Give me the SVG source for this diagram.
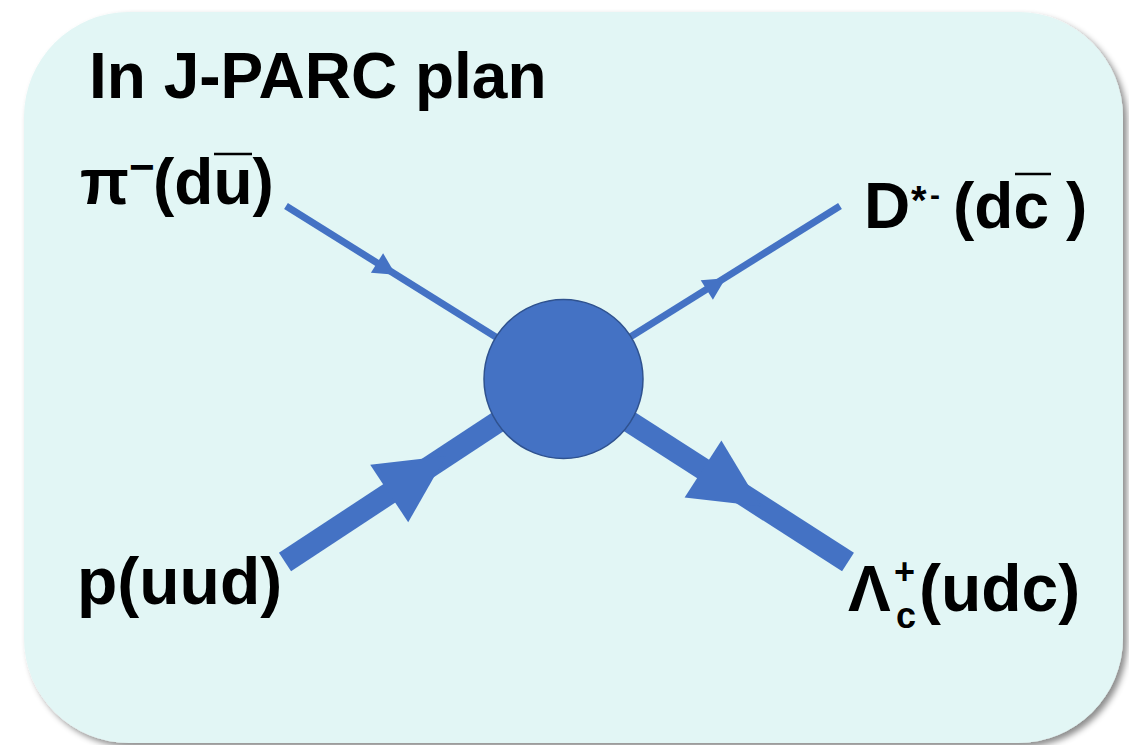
<svg xmlns="http://www.w3.org/2000/svg" width="1129" height="745" viewBox="0 0 1129 745">
  <defs>
    <filter id="panelShadow" x="-5%" y="-5%" width="112%" height="112%">
      <feDropShadow dx="4" dy="4" stdDeviation="3" flood-color="#000" flood-opacity="0.45"/>
    </filter>
    <style>
      .label { font-family: "Liberation Sans", Arial, sans-serif; font-weight: bold; fill: #000; }
      .prop { stroke: #4472C4; fill: none; stroke-linecap: butt; }
      .thin { stroke-width: 7; }
      .thick { stroke-width: 22; }
      .head { fill: #4472C4; stroke: none; }
      .bar { stroke: #000; stroke-width: 2.5; }
    </style>
  </defs>

  <rect id="panel" x="24" y="12" width="1099" height="731" rx="105" ry="105" fill="#E2F6F5" filter="url(#panelShadow)"/>

  <g id="title">
    <text class="label" x="89" y="98" font-size="64">In J-PARC plan</text>
  </g>

  <!-- propagators -->
  <g id="connectors">
    <line class="prop thin" x1="286" y1="206" x2="563" y2="379"/>
    <line class="prop thin" x1="563" y1="379" x2="840" y2="206"/>
    <line class="prop thick" x1="285" y1="562" x2="563" y2="379"/>
    <line class="prop thick" x1="563" y1="379" x2="848" y2="562"/>
    <polygon class="head" points="383.1,253.2 395.7,274.7 370.9,272.8"/>
    <polygon class="head" points="700.7,280.2 725.5,278.3 712.9,299.8"/>
    <polygon class="head" points="370.2,464.7 446,456.1 408.2,522.3"/>
    <polygon class="head" points="721.4,440.4 761,506.3 684.6,497.6"/>
  </g>

  <g id="vertex">
    <circle cx="563.5" cy="379" r="79.5" fill="#4472C4" stroke="#2F528F" stroke-width="1.5"/>
  </g>

  <g id="pion">
    <text class="label" font-size="64"><tspan x="80" y="204">π</tspan><tspan x="129" y="182" font-size="44">−</tspan><tspan x="153" y="204">(du)</tspan></text>
    <line class="bar" x1="214" y1="154" x2="252" y2="154"/>
  </g>

  <g id="dstar">
    <text class="label" font-size="64"><tspan x="864" y="228">D</tspan><tspan x="911" y="214" font-size="40">*</tspan><tspan x="930" y="205" font-size="30">-</tspan><tspan x="953" y="228">(dc</tspan><tspan x="1066" y="228">)</tspan></text>
    <line class="bar" x1="1015" y1="174" x2="1051" y2="174"/>
  </g>

  <g id="proton">
    <text class="label" x="77" y="604" font-size="66">p(uud)</text>
  </g>

  <g id="lambdac">
    <text class="label" font-size="64"><tspan x="848" y="611">Λ</tspan><tspan x="894" y="584" font-size="36">+</tspan><tspan x="896" y="628" font-size="36">c</tspan><tspan x="919" y="611" font-size="66">(udc)</tspan></text>
  </g>
</svg>
